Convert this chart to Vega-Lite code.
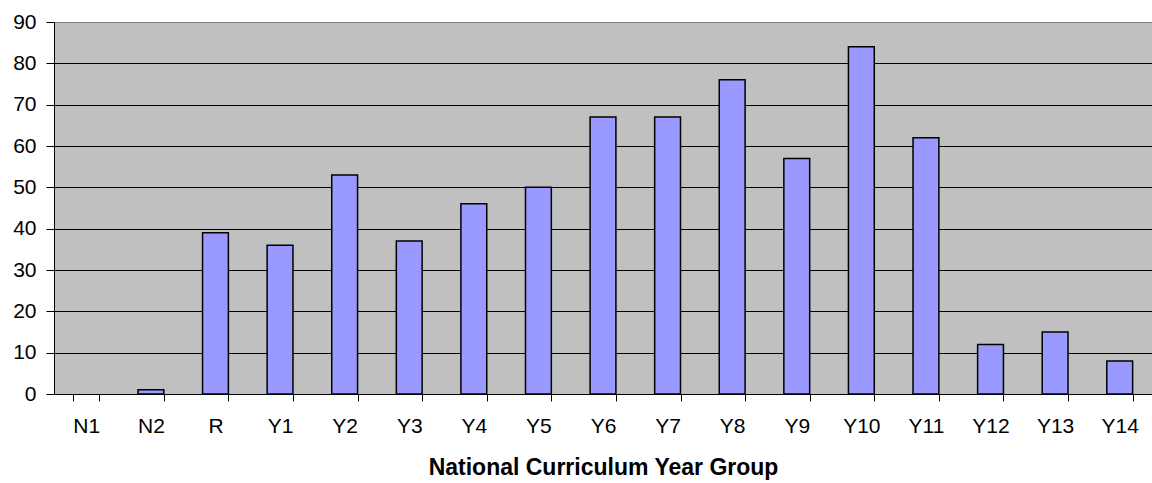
{
  "$schema": "https://vega.github.io/schema/vega-lite/v6.json",
  "width": 1098,
  "height": 372,
  "autosize": {"type": "none"},
  "padding": {"left": 54, "top": 22, "right": 0, "bottom": 89},
  "background": "white",
  "config": {
    "view": {"fill": "#C0C0C0", "stroke": "#808080", "strokeWidth": 1},
    "font": "Liberation Sans"
  },
  "data": {
    "values": [
      {"group": "N1", "count": 0},
      {"group": "N2", "count": 1},
      {"group": "R", "count": 39},
      {"group": "Y1", "count": 36},
      {"group": "Y2", "count": 53},
      {"group": "Y3", "count": 37},
      {"group": "Y4", "count": 46},
      {"group": "Y5", "count": 50},
      {"group": "Y6", "count": 67},
      {"group": "Y7", "count": 67},
      {"group": "Y8", "count": 76},
      {"group": "Y9", "count": 57},
      {"group": "Y10", "count": 84},
      {"group": "Y11", "count": 62},
      {"group": "Y12", "count": 12},
      {"group": "Y13", "count": 15},
      {"group": "Y14", "count": 8}
    ]
  },
  "mark": {"type": "bar", "fill": "#9999FF", "stroke": "#000000", "strokeWidth": 1.5},
  "encoding": {
    "strokeOpacity": {"condition": {"test": "datum.count == 0", "value": 0}, "value": 1},
    "x": {
      "field": "group",
      "type": "nominal",
      "sort": null,
      "scale": {"paddingInner": 0.6, "paddingOuter": 0.3},
      "axis": {
        "title": "National Curriculum Year Group",
        "titleFont": "Liberation Sans",
        "titleFontSize": 23,
        "titleFontWeight": "bold",
        "titleColor": "#000",
        "titlePadding": 20,
        "labelFont": "Liberation Sans",
        "labelFontSize": 21,
        "labelColor": "#000",
        "labelAngle": 0,
        "labelPadding": 14,
        "tickBand": "extent",
        "tickSize": 7,
        "tickColor": "#000",
        "domainColor": "#000",
        "grid": false
      }
    },
    "y": {
      "field": "count",
      "type": "quantitative",
      "scale": {"domain": [0, 90], "nice": false},
      "axis": {
        "title": null,
        "values": [0, 10, 20, 30, 40, 50, 60, 70, 80, 90],
        "labelFont": "Liberation Sans",
        "labelFontSize": 21,
        "labelColor": "#000",
        "labelPadding": 10,
        "tickSize": 8,
        "tickColor": "#000",
        "domainColor": "#000",
        "grid": true,
        "gridColor": {"condition": {"test": "datum.value == 90", "value": "#808080"}, "value": "#000000"},
        "gridOpacity": 1
      }
    }
  }
}
